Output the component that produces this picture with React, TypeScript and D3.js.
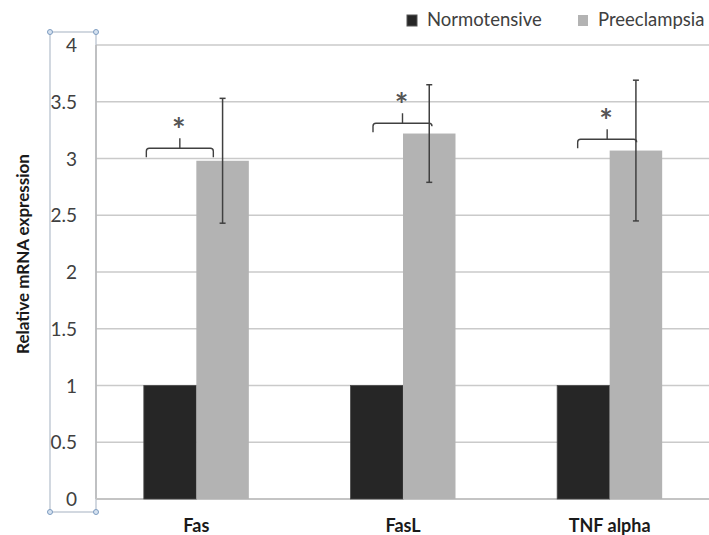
import React, { useRef, useEffect } from 'react';
import * as d3 from 'd3';

const genes = ['Fas', 'FasL', 'TNF alpha'];
const seriesNames = ['Normotensive', 'Preeclampsia'];
const normotensive = [1, 1, 1];
const preeclampsia = [2.98, 3.22, 3.07];
const preeclampsiaErr = [0.55, 0.43, 0.62];
const bracketLevel = [3.09, 3.31, 3.17];
const yTicks = [0, 0.5, 1, 1.5, 2, 2.5, 3, 3.5, 4];

const App: React.FC = () => {
  const svgRef = useRef<SVGSVGElement | null>(null);

  useEffect(() => {
    if (!svgRef.current) return;
    const svg = d3.select(svgRef.current);
    svg.selectAll('*').remove();

    const font = 'Lato, "Open Sans", sans-serif';
    const axisX = 96;
    const rightX = 709;

    const x = d3.scaleBand<string>().domain(genes).range([93, 713]);
    const y = d3.scaleLinear().domain([0, 4]).range([499, 45]);
    const barW = 52.5;
    const cx = (g: string) => (x(g) ?? 0) + x.bandwidth() / 2;

    // gridlines
    svg.append('g')
      .selectAll('line')
      .data(yTicks.slice(1))
      .enter()
      .append('line')
      .attr('x1', axisX)
      .attr('x2', rightX)
      .attr('y1', d => y(d))
      .attr('y2', d => y(d))
      .attr('stroke', '#cacaca')
      .attr('stroke-width', 1.5);

    // selection box around the axis labels
    const sel = svg.append('g');
    sel.append('rect')
      .attr('x', 50).attr('y', 32).attr('width', axisX - 50).attr('height', 480)
      .attr('fill', 'none').attr('stroke', '#b4bfcc').attr('stroke-width', 1.2);
    [[50, 32], [axisX, 32], [50, 512], [axisX, 512]].forEach(([px, py]) => {
      sel.append('circle')
        .attr('cx', px).attr('cy', py).attr('r', 2.5)
        .attr('fill', '#d6e2f0').attr('stroke', '#7d9cc0').attr('stroke-width', 1);
    });

    // axis lines
    svg.append('line')
      .attr('x1', axisX).attr('x2', axisX).attr('y1', y(4)).attr('y2', y(0))
      .attr('stroke', '#b8b8b8').attr('stroke-width', 1.5);
    svg.append('line')
      .attr('x1', axisX).attr('x2', rightX).attr('y1', y(0)).attr('y2', y(0))
      .attr('stroke', '#c4c4c4').attr('stroke-width', 2);

    // y tick labels
    svg.append('g')
      .selectAll('text')
      .data(yTicks)
      .enter()
      .append('text')
      .attr('x', 77)
      .attr('y', d => y(d) + 7)
      .attr('text-anchor', 'end')
      .attr('font-family', font)
      .attr('font-size', 19)
      .attr('fill', '#404040')
      .text(d => String(d));

    // bars
    svg.append('g')
      .selectAll('rect')
      .data(genes)
      .enter()
      .append('rect')
      .attr('x', d => cx(d) - barW)
      .attr('y', (d, i) => y(normotensive[i]))
      .attr('width', barW)
      .attr('height', (d, i) => y(0) - y(normotensive[i]))
      .attr('fill', '#262626')
      .attr('stroke', '#4a4a4a')
      .attr('stroke-width', 0.8);

    svg.append('g')
      .selectAll('rect')
      .data(genes)
      .enter()
      .append('rect')
      .attr('x', d => cx(d))
      .attr('y', (d, i) => y(preeclampsia[i]))
      .attr('width', barW)
      .attr('height', (d, i) => y(0) - y(preeclampsia[i]))
      .attr('fill', '#b3b3b3');

    // error bars
    const eb = svg.append('g').attr('stroke', '#404040').attr('stroke-width', 1.5);
    genes.forEach((g, i) => {
      const ex = cx(g) + barW / 2;
      const hi = y(preeclampsia[i] + preeclampsiaErr[i]);
      const lo = y(preeclampsia[i] - preeclampsiaErr[i]);
      eb.append('line').attr('x1', ex).attr('x2', ex).attr('y1', hi).attr('y2', lo);
      eb.append('line').attr('x1', ex - 3).attr('x2', ex + 3).attr('y1', hi).attr('y2', hi);
      eb.append('line').attr('x1', ex - 3).attr('x2', ex + 3).attr('y1', lo).attr('y2', lo);
    });

    // significance brackets
    const br = svg.append('g')
      .attr('fill', 'none').attr('stroke', '#404040').attr('stroke-width', 1.4);
    const bracketSpan = [[-50, 17], [-30, 29], [-32, 27]];
    genes.forEach((g, i) => {
      const x0 = cx(g) + bracketSpan[i][0];
      const x1 = cx(g) + bracketSpan[i][1];
      const by = y(bracketLevel[i]);
      const mid = (x0 + x1) / 2;
      const path = d3.path();
      path.moveTo(x0, by + 9);
      path.lineTo(x0, by + 3);
      path.quadraticCurveTo(x0, by, x0 + 3, by);
      path.lineTo(x1 - 3, by);
      path.quadraticCurveTo(x1, by, x1, by + 3);
      if (i === 0) path.lineTo(x1, by + 9);
      path.moveTo(mid, by);
      path.lineTo(mid, by - 10);
      br.append('path').attr('d', path.toString());
      svg.append('text')
        .attr('x', mid - 1)
        .attr('y', by - 6)
        .attr('text-anchor', 'middle')
        .attr('font-family', font)
        .attr('font-weight', 'bold')
        .attr('font-size', 32)
        .attr('fill', '#555')
        .text('*');
    });

    // x labels
    svg.append('g')
      .selectAll('text')
      .data(genes)
      .enter()
      .append('text')
      .attr('x', d => cx(d))
      .attr('y', 532)
      .attr('text-anchor', 'middle')
      .attr('font-family', font)
      .attr('font-weight', 'bold')
      .attr('font-size', 18)
      .attr('fill', '#1a1a1a')
      .text(d => d);

    // y title
    svg.append('text')
      .attr('transform', `translate(29,254) rotate(-90)`)
      .attr('text-anchor', 'middle')
      .attr('font-family', font)
      .attr('font-weight', 'bold')
      .attr('font-size', 17)
      .attr('fill', '#1a1a1a')
      .text('Relative mRNA expression');

    // legend
    const legendX = [407, 578];
    const colors = ['#262626', '#b3b3b3'];
    seriesNames.forEach((s, i) => {
      svg.append('rect')
        .attr('x', legendX[i]).attr('y', 15).attr('width', 10).attr('height', 11)
        .attr('fill', colors[i]).attr('stroke', i === 0 ? '#555' : 'none');
      svg.append('text')
        .attr('x', legendX[i] + 20)
        .attr('y', 26)
        .attr('font-family', font)
        .attr('font-size', 18.5)
        .attr('fill', '#404040')
        .text(s);
    });
  }, []);

  return (
    <svg
      ref={svgRef}
      width={709}
      height={535}
      style={{ position: 'absolute', left: 0, top: 0, background: '#fff' }}
    />
  );
};

export default App;
